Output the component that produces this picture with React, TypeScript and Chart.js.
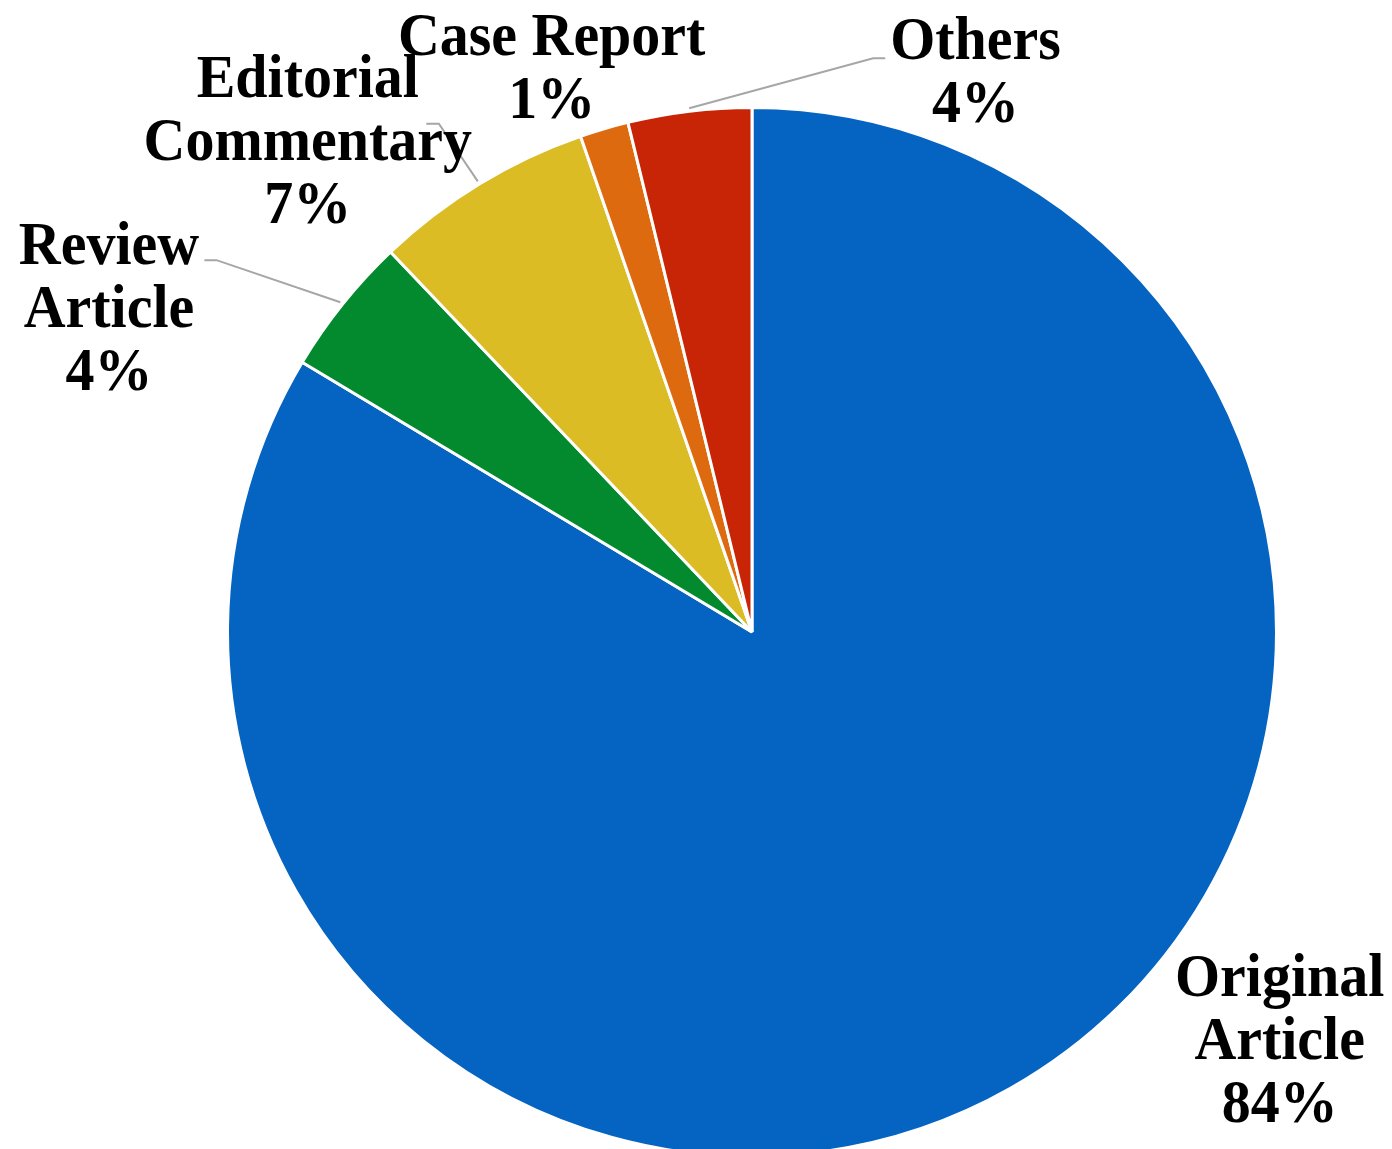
import React, { useEffect, useRef } from "react";
import { Chart, registerables } from "chart.js";

Chart.register(...registerables);

const categories = ["Original Article", "Review Article", "Editorial Commentary", "Case Report", "Others"];
const categoryLines = [["Original", "Article"], ["Review", "Article"], ["Editorial", "Commentary"], ["Case Report"], ["Others"]];
const values = [83.6, 4.3, 6.8, 1.5, 3.8];
const pctLabels = ["84%", "4%", "7%", "1%", "4%"];
const colors = ["#0563C1", "#038A2E", "#DBBC25", "#DE6A10", "#C82506"];

// label block centres, in units of the pie radius relative to its centre
const labelAnchors: [number, number][] = [
  [1.006, 0.778],
  [-1.226, -0.618],
  [-0.847, -0.935],
  [-0.382, -1.076],
  [0.426, -1.068],
];
// leader line elbow / end points (radius units), null = none
const leaderPts: ([number, number][] | null)[] = [
  null,
  [[-1.021, -0.709], [-1.044, -0.709]],
  [[-0.597, -0.969], [-0.621, -0.969]],
  null,
  [[0.231, -1.094], [0.254, -1.094]],
];

const W = 1392;
const H = 1160;

const labelPlugin = {
  id: "pieLabels",
  afterDraw(chart: any) {
    const ctx = chart.ctx;
    const meta = chart.getDatasetMeta(0);
    const fontSize = 61;
    const lineH = 63;
    meta.data.forEach((arc: any, i: number) => {
      const { x, y, outerRadius, startAngle, endAngle } = arc.getProps(
        ["x", "y", "outerRadius", "startAngle", "endAngle"],
        true
      );
      const R = outerRadius;
      const pts = leaderPts[i];
      if (pts) {
        const mid = (startAngle + endAngle) / 2;
        ctx.save();
        ctx.strokeStyle = "#A6A6A6";
        ctx.lineWidth = 2;
        ctx.beginPath();
        ctx.moveTo(x + Math.cos(mid) * (R + 3), y + Math.sin(mid) * (R + 3));
        pts.forEach((p) => ctx.lineTo(x + p[0] * R, y + p[1] * R));
        ctx.stroke();
        ctx.restore();
      }
      const lines = [...categoryLines[i], pctLabels[i]];
      const ax = x + labelAnchors[i][0] * R;
      const ay = y + labelAnchors[i][1] * R;
      const y0 = ay - ((lines.length - 1) / 2) * lineH;
      ctx.save();
      ctx.fillStyle = "#000000";
      ctx.font = `bold ${fontSize}px "Liberation Serif", "Times New Roman", serif`;
      ctx.textAlign = "center";
      ctx.textBaseline = "middle";
      lines.forEach((t, k) => {
        ctx.save();
        ctx.translate(ax, y0 + k * lineH + 3);
        ctx.scale(0.95, 1);
        ctx.fillText(t, 0, 0);
        ctx.restore();
      });
      ctx.restore();
    });
  },
};

export default function App() {
  const ref = useRef<HTMLCanvasElement | null>(null);
  useEffect(() => {
    document.body.style.margin = "0";
    document.body.style.overflow = "hidden";
    const canvas = ref.current;
    if (!canvas) return;
    const chart = new Chart(canvas, {
      type: "pie",
      data: {
        labels: categories,
        datasets: [
          {
            data: values,
            backgroundColor: colors,
            borderColor: "#FFFFFF",
            borderWidth: 3,
          },
        ],
      },
      options: {
        responsive: false,
        animation: false,
        layout: { padding: { left: 226, right: 114, top: 106, bottom: 2 } },
        plugins: {
          legend: { display: false },
          tooltip: { enabled: false },
        },
      },
      plugins: [labelPlugin],
    });
    return () => chart.destroy();
  }, []);
  return (
    <div style={{ position: "absolute", left: 0, top: 0, width: W, height: H, background: "#fff" }}>
      <canvas ref={ref} width={W} height={H} style={{ width: W, height: H, display: "block" }} />
    </div>
  );
}
